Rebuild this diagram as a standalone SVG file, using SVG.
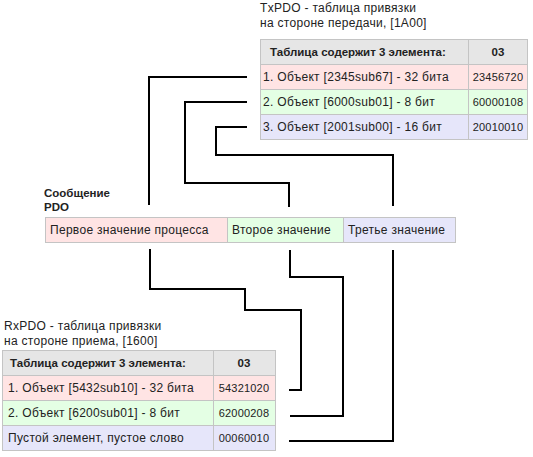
<svg xmlns="http://www.w3.org/2000/svg" width="533" height="457" viewBox="0 0 533 457">
<style>
text{font-family:"Liberation Sans",Arial,sans-serif;font-size:12px;fill:#222;letter-spacing:0.3px}
.b{font-weight:bold;font-size:11.5px;letter-spacing:0}
.c{text-anchor:middle}
.v{font-size:11px;letter-spacing:0.2px}
.cell{stroke:#c4c4c4;stroke-width:1}
.h{fill:#e6e6e6}.r{fill:#ffe4e4}.g{fill:#e4ffe4}.u{fill:#e6e6fa}
.ln{fill:none;stroke:#000;stroke-width:2}
</style>
<rect width="533" height="457" fill="#fff"/>
<g id="txpdo">
<text x="260" y="12">TxPDO - таблица привязки</text>
<text x="260" y="27">на стороне передачи, [1A00]</text>
<rect class="cell h" x="260.5" y="39.5" width="208" height="25"/>
<rect class="cell h" x="468.5" y="39.5" width="59" height="25"/>
<rect class="cell r" x="260.5" y="64.5" width="208" height="25"/>
<rect class="cell r" x="468.5" y="64.5" width="59" height="25"/>
<rect class="cell g" x="260.5" y="89.5" width="208" height="25"/>
<rect class="cell g" x="468.5" y="89.5" width="59" height="25"/>
<rect class="cell u" x="260.5" y="114.5" width="208" height="25"/>
<rect class="cell u" x="468.5" y="114.5" width="59" height="25"/>
<text class="b" x="270" y="56">Таблица содержит 3 элемента:</text>
<text class="b c" x="498" y="56">03</text>
<text x="263" y="81">1. Объект [2345sub67] - 32 бита</text>
<text class="c v" x="498" y="81">23456720</text>
<text x="263" y="106">2. Объект [6000sub01] - 8 бит</text>
<text class="c v" x="498" y="106">60000108</text>
<text x="263" y="131">3. Объект [2001sub00] - 16 бит</text>
<text class="c v" x="498" y="131">20010010</text>
</g>
<g id="pdo">
<text class="b" x="44" y="197">Сообщение</text>
<text class="b" x="44" y="211">PDO</text>
<rect class="cell r" x="45.5" y="217.5" width="182" height="25"/>
<rect class="cell g" x="227.5" y="217.5" width="116" height="25"/>
<rect class="cell u" x="343.5" y="217.5" width="112" height="25"/>
<text x="50" y="234">Первое значение процесса</text>
<text x="232" y="234">Второе значение</text>
<text x="348" y="234">Третье значение</text>
</g>
<g id="rxpdo">
<text x="4" y="330">RxPDO - таблица привязки</text>
<text x="4" y="345">на стороне приема, [1600]</text>
<rect class="cell h" x="2.5" y="350.5" width="211" height="25"/>
<rect class="cell h" x="213.5" y="350.5" width="62" height="25"/>
<rect class="cell r" x="2.5" y="375.5" width="211" height="25"/>
<rect class="cell r" x="213.5" y="375.5" width="62" height="25"/>
<rect class="cell g" x="2.5" y="400.5" width="211" height="25"/>
<rect class="cell g" x="213.5" y="400.5" width="62" height="25"/>
<rect class="cell u" x="2.5" y="425.5" width="211" height="25"/>
<rect class="cell u" x="213.5" y="425.5" width="62" height="25"/>
<text class="b" x="10" y="367">Таблица содержит 3 элемента:</text>
<text class="b c" x="244" y="367">03</text>
<text x="8" y="392">1. Объект [5432sub10] - 32 бита</text>
<text class="c v" x="244" y="392">54321020</text>
<text x="8" y="417">2. Объект [6200sub01] - 8 бит</text>
<text class="c v" x="244" y="417">62000208</text>
<text x="8" y="442">Пустой элемент, пустое слово</text>
<text class="c v" x="244" y="442">00060010</text>
</g>
<g id="connectors">
<polyline class="ln" points="247,77 149,77 149,205"/>
<polyline class="ln" points="247,102 185,102 185,183 289,183 289,207"/>
<polyline class="ln" points="247,127 216,127 216,155 393,155 393,206"/>
<polyline class="ln" points="150,249 150,289 245,289 245,310 301,310 301,390 289,390"/>
<polyline class="ln" points="290,250 290,277 343,277 343,416 290,416"/>
<polyline class="ln" points="393,250 393,441 289,441"/>
</g>
</svg>
